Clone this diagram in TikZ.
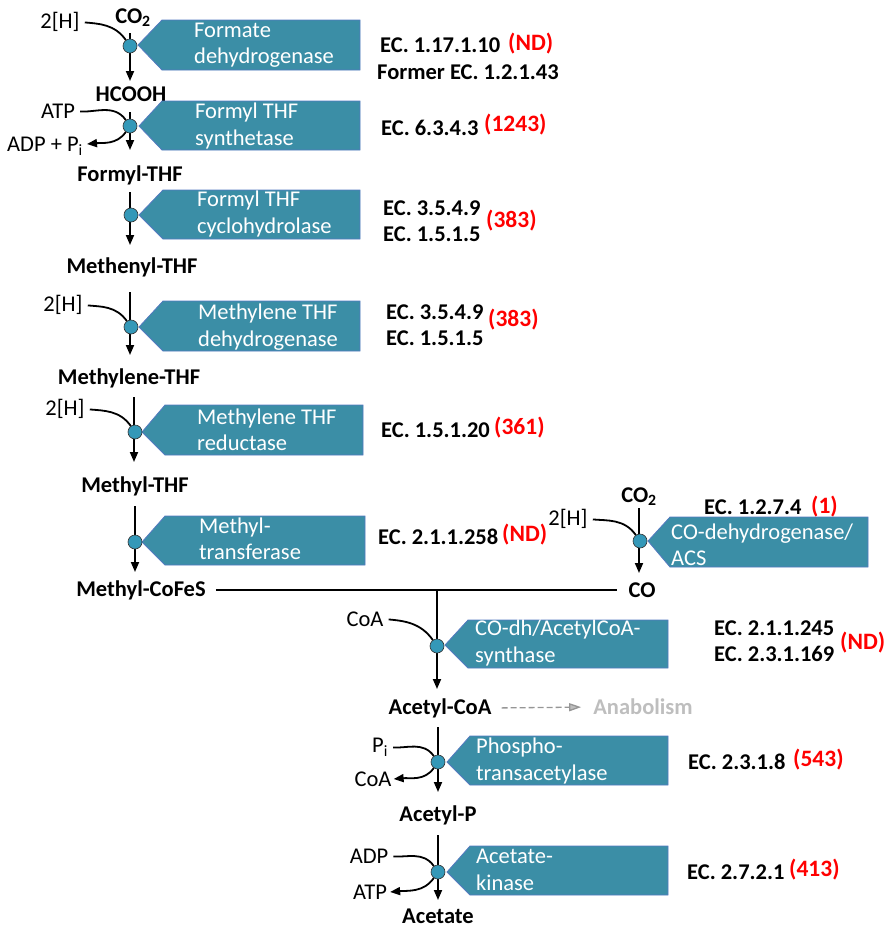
\documentclass[tikz,border=0pt]{standalone}
\usepackage{fontspec}
\setmainfont{Carlito}
\usepackage{xcolor}
\usepackage{tikz}
\usetikzlibrary{arrows.meta}

\definecolor{enzfill}{RGB}{59,142,166}
\definecolor{enzline}{RGB}{84,122,192}
\definecolor{dotfill}{RGB}{52,152,184}
\definecolor{ndred}{RGB}{255,0,0}
\definecolor{anagray}{RGB}{190,190,190}
\definecolor{dashgray}{RGB}{150,150,150}

\begin{document}
\begin{tikzpicture}[x=1pt, y=1pt,
    every node/.style={font=\fontsize{22.5}{26.5}\selectfont, inner sep=0pt},
    met/.style={font=\fontsize{22.5}{26.5}\selectfont\bfseries},
    ec/.style={anchor=west, align=left, font=\fontsize{22.5}{26.5}\selectfont\bfseries},
    num/.style={anchor=west, text=ndred, font=\fontsize{23.5}{26.5}\selectfont\bfseries},
    enz/.style={fill=enzfill, draw=enzline, line width=0.8pt},
    enztext/.style={anchor=west, align=left, text=white},
    dot/.style={circle, draw=black!80, fill=dotfill, line width=0.6pt, minimum size=14pt},
    flow/.style={line width=1.8pt, -{Triangle[length=10pt,width=8pt]}},
    side/.style={line width=1.8pt, shorten <=5pt}]
        \useasboundingbox (0,0) rectangle (886,-930);

        % Step 1
        \draw[enz] (138,-45) -- (162,-20) -- (360,-20) -- (360,-70) -- (162,-70) -- cycle;
        \node[enztext] (fdh) at (194,-45) {Formate\\dehydrogenase};
        \coordinate (t1) at (130,-33);
        \coordinate (b1) at (130,-81);
        \draw[flow] (t1) -- (b1);
        \node[dot] (c1) at (130,-46) {};
        \node (h1) at (60,-22) {2[H]};
        \node[met] (co2a) at (133,-18) {CO\textsubscript{2}};
        \draw[side] (h1.east) to[out=-5,in=125] (c1);
        \node[ec] (ec1) at (380,-45) {EC. 1.17.1.10};
        \node[num] (n1) at (508,-44) {(ND)};
        \node[ec] (ec1b) at (377,-72) {Former EC. 1.2.1.43};
        \node[met] (hcooh) at (131,-94) {HCOOH};

        % Step 2
        \draw[enz] (139,-126) -- (162,-101) -- (360,-101) -- (360,-150) -- (162,-150) -- cycle;
        \node[enztext] (fths) at (195,-126) {Formyl THF\\synthetase};
        \coordinate (t2) at (130,-112);
        \coordinate (b2) at (130,-150);
        \draw[flow] (t2) -- (b2);
        \node[dot] (c2) at (130,-126) {};
        \node (atp1) at (58,-111) {ATP};
        \node (adp1) at (45,-146) {ADP + P\textsubscript{i}};
        \draw[side] (atp1.east) to[out=-5,in=125] (c2);
        \draw[flow] (c2) to[out=235,in=5] ([xshift=4pt,yshift=2pt]adp1.east);
        \node[ec] (ec2) at (381,-128) {EC. 6.3.4.3};
        \node[num] (n2) at (484,-125) {(1243)};
        \node[met] (fthf) at (130,-175) {Formyl-THF};

        % Step 3
        \draw[enz] (139,-215) -- (163,-190) -- (360,-190) -- (360,-239) -- (163,-239) -- cycle;
        \node[enztext] (fthc) at (197,-214) {Formyl THF\\cyclohydrolase};
        \coordinate (t3) at (130,-192);
        \coordinate (b3) at (130,-245);
        \draw[flow] (t3) -- (b3);
        \node[dot] (c3) at (131,-215) {};
        \node[ec] (ec3) at (383,-221) {EC. 3.5.4.9\\EC. 1.5.1.5};
        \node[num] (n3) at (486,-221) {(383)};
        \node[met] (methenyl) at (132,-267) {Methenyl-THF};

        % Step 4
        \draw[enz] (139,-327) -- (163,-301) -- (360,-301) -- (360,-351) -- (163,-351) -- cycle;
        \node[enztext] (mthd) at (198,-327) {Methylene THF\\dehydrogenase};
        \coordinate (t4) at (130,-292);
        \coordinate (b4) at (130,-355);
        \draw[flow] (t4) -- (b4);
        \node[dot] (c4) at (131,-327) {};
        \node (h4) at (63,-305) {2[H]};
        \draw[side] (h4.east) to[out=-5,in=125] (c4);
        \node[ec] (ec4) at (386,-325) {EC. 3.5.4.9\\EC. 1.5.1.5};
        \node[num] (n4) at (488,-320) {(383)};
        \node[met] (methylene) at (129,-378) {Methylene-THF};

        % Step 5
        \draw[enz] (142,-432) -- (165,-405) -- (363,-405) -- (363,-455) -- (165,-455) -- cycle;
        \node[enztext] (mthr) at (197,-430) {Methylene THF\\reductase};
        \coordinate (t5) at (134,-397);
        \coordinate (b5) at (134,-462);
        \draw[flow] (t5) -- (b5);
        \node[dot] (c5) at (135,-432) {};
        \node (h5) at (65,-409) {2[H]};
        \draw[side] (h5.east) to[out=-5,in=125] (c5);
        \node[ec] (ec5) at (381,-430) {EC. 1.5.1.20};
        \node[num] (n5) at (494,-428) {(361)};
        \node[met] (methyl) at (135,-486) {Methyl-THF};

        % Step 6
        \draw[enz] (142,-542) -- (165,-516) -- (365,-516) -- (365,-565) -- (165,-565) -- cycle;
        \node[enztext] (mtr) at (199,-539) {Methyl-\\transferase};
        \coordinate (t6) at (135,-506);
        \coordinate (b6) at (135,-572);
        \draw[flow] (t6) -- (b6);
        \node[dot] (c6) at (135,-542) {};
        \node[ec] (ec6) at (378,-537) {EC. 2.1.1.258};
        \node[num] (n6) at (502,-535) {(ND)};
        \node[met] (mcofes) at (141,-590) {Methyl-CoFeS};

        % CO branch
        \draw[enz] (648,-541) -- (670,-517) -- (868,-517) -- (868,-567) -- (670,-567) -- cycle;
        \node[enztext] (codh) at (671,-545) {CO-dehydrogenase/\\ACS};
        \coordinate (t7) at (639,-508);
        \coordinate (b7) at (639,-573);
        \draw[flow] (t7) -- (b7);
        \node[dot] (c7) at (640,-541) {};
        \node[met] (co2b) at (639,-497) {CO\textsubscript{2}};
        \node (h7) at (568,-519) {2[H]};
        \draw[side] (h7.east) to[out=-5,in=125] (c7);
        \node[ec] (ec7) at (704,-507) {EC. 1.2.7.4};
        \node[num] (n7) at (811,-507) {(1)};
        \node[met] (co) at (642,-590) {CO};

        % Join
        \draw[line width=1.8pt, shorten <=10pt, shorten >=11pt] (mcofes.east) -- (co.west);
        \coordinate (j) at (437,-590);
        \coordinate (b8) at (437,-689);
        \draw[flow] (j) -- (b8);
        \draw[enz] (445,-645) -- (468,-620) -- (668,-620) -- (668,-668) -- (468,-668) -- cycle;
        \node[enztext] (acs) at (475,-643) {CO-dh/AcetylCoA-\\synthase};
        \node[dot] (c8) at (437,-646) {};
        \node (coa1) at (365,-619) {CoA};
        \draw[side] (coa1.east) to[out=-5,in=125] (c8);
        \node[ec] (ec8) at (714,-641) {EC. 2.1.1.245\\EC. 2.3.1.169};
        \node[num] (n8) at (840,-643) {(ND)};
        \node[met] (acoa) at (440,-708) {Acetyl-CoA};
        \node[met, text=anagray] (anab) at (643,-707) {Anabolism};
        \draw[dashgray, dash pattern=on 6pt off 3pt, line width=1.3pt, shorten <=10pt, shorten >=12pt,
              -{Triangle[length=12pt,width=8pt,fill=anagray]}] (acoa.east) -- (anab.west);

        % Step 8
        \draw[enz] (447,-762) -- (470,-736) -- (668,-736) -- (668,-785) -- (470,-785) -- cycle;
        \node[enztext] (pta) at (476,-761) {Phospho-\\transacetylase};
        \coordinate (t9) at (438,-727);
        \coordinate (b9) at (438,-792);
        \draw[flow] (t9) -- (b9);
        \node[dot] (c9) at (438,-762) {};
        \node (pi) at (380,-747) {P\textsubscript{i}};
        \node (coa2) at (373,-779) {CoA};
        \draw[side] (pi.east) to[out=-5,in=125] (c9);
        \draw[flow] (c9) to[out=235,in=5] ([xshift=2pt]coa2.east);
        \node[ec] (ec9) at (688,-762) {EC. 2.3.1.8};
        \node[num] (n9) at (793,-760) {(543)};
        \node[met] (acp) at (438,-815) {Acetyl-P};

        % Step 9
        \draw[enz] (447,-872) -- (470,-846) -- (668,-846) -- (668,-895) -- (470,-895) -- cycle;
        \node[enztext] (ack) at (476,-870) {Acetate-\\kinase};
        \coordinate (t10) at (438,-835);
        \coordinate (b10) at (438,-900);
        \draw[flow] (t10) -- (b10);
        \node[dot] (c10) at (438,-872) {};
        \node (adp2) at (369,-856) {ADP};
        \node (atp2) at (370,-892) {ATP};
        \draw[side] (adp2.east) to[out=-5,in=125] (c10);
        \draw[flow] (c10) to[out=235,in=5] ([xshift=3pt]atp2.east);
        \node[ec] (ec10) at (687,-872) {EC. 2.7.2.1};
        \node[num] (n10) at (789,-870) {(413)};
        \node[met] (acetate) at (438,-916) {Acetate};
      \end{tikzpicture}
\end{document}
